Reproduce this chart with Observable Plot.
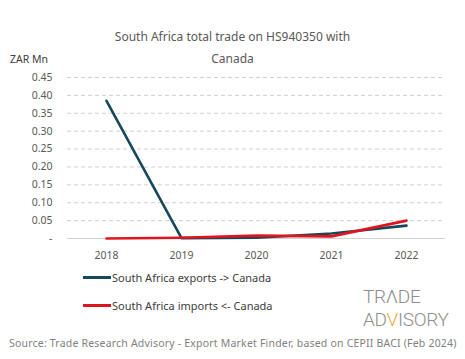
<!DOCTYPE html>
<html><head><meta charset="utf-8">
<script src="https://cdn.jsdelivr.net/npm/d3@7"></script>
<script src="https://cdn.jsdelivr.net/npm/@observablehq/plot@0.6"></script>
<style>
body{margin:0;background:#fff;font-family:"Noto Sans",sans-serif;}
#wrap{position:relative;width:465px;height:359px;overflow:hidden;}
.title{position:absolute;left:0;width:465px;text-align:center;font-size:12px;color:#595959;}
#unit{position:absolute;left:10px;top:52px;font-size:10.5px;color:#404040;}
#chart{position:absolute;left:0;top:0;}
.leg{position:absolute;left:83px;font-size:11px;color:#404040;display:flex;align-items:center;}
.sw{display:inline-block;width:28px;height:3px;margin-right:1px;}
.logo{position:absolute;left:363px;font-family:"Liberation Sans Narrow","Roboto",sans-serif;font-weight:300;font-size:19px;line-height:22px;height:22px;color:#8e8e8e;letter-spacing:-0.3px;}
.logo .v{color:#f2a93b;}
#src{position:absolute;left:9px;top:336px;font-size:10.5px;letter-spacing:0.2px;color:#7f7f7f;white-space:nowrap;}
</style></head>
<body>
<div id="wrap">
  <div class="title" style="top:28px">South Africa total trade on HS940350 with</div>
  <div class="title" style="top:50px">Canada</div>
  <div id="unit">ZAR Mn</div>
  <div id="chart"></div>
  <div class="leg" style="top:270px"><span class="sw" style="background:#17475a"></span><span id="l1"></span></div>
  <div class="leg" style="top:298px"><span class="sw" style="background:#e0141e"></span><span id="l2"></span></div>
  <div class="logo" style="top:286px">TRΛDE</div>
  <div class="logo" style="top:309px">AD<span class="v">V</span>ISORY</div>
  <div id="src">Source: Trade Research Advisory - Export Market Finder, based on CEPII BACI (Feb 2024)</div>
</div>
<script>
const years = ["2018","2019","2020","2021","2022"];
const exportsVals = [0.385, 0.001, 0.002, 0.014, 0.036];
const importsVals = [0.000, 0.002, 0.008, 0.006, 0.050];
const seriesNames = ["South Africa exports -> Canada", "South Africa imports <- Canada"];
const seriesColors = ["#17475a", "#e0141e"];
const yTicks = [0,0.05,0.10,0.15,0.20,0.25,0.30,0.35,0.40,0.45];

document.getElementById("l1").textContent = seriesNames[0];
document.getElementById("l2").textContent = seriesNames[1];

const data = [];
years.forEach((y,i)=>{
  data.push({year:y, value:exportsVals[i], series:seriesNames[0]});
  data.push({year:y, value:importsVals[i], series:seriesNames[1]});
});

const chart = Plot.plot({
  width:465, height:265,
  marginTop:77, marginBottom:27, marginLeft:67, marginRight:20,
  style:{fontFamily:"Noto Sans, sans-serif", fontSize:"10.5px", color:"#595959", background:"transparent"},
  x:{type:"point", domain:years, padding:0.5, label:null},
  y:{domain:[0,0.45], label:null},
  color:{domain:seriesNames, range:seriesColors},
  marks:[
    Plot.ruleY(yTicks.filter(d=>d>0), {stroke:"#d0d0d0", strokeDasharray:"4,3", strokeWidth:1}),
    Plot.ruleY([0], {stroke:"#d0d0d0", strokeWidth:1}),
    Plot.axisX({tickSize:0, tickPadding:13, fill:"#595959"}),
    Plot.axisY({ticks:yTicks, tickSize:0, tickPadding:15, fill:"#595959",
      tickFormat:d=> d===0 ? "-" : d3.format(".2f")(d)}),
    Plot.line(data, {x:"year", y:"value", z:"series", stroke:"series", strokeWidth:2.6})
  ]
});
document.getElementById("chart").appendChild(chart);
</script>
</body></html>
